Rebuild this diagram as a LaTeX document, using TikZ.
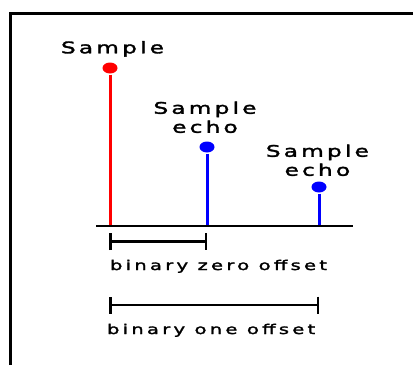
\documentclass[tikz,border=0pt]{standalone}
\usepackage{fontspec}
\usetikzlibrary{shapes.geometric,arrows.meta}
\newfontfamily\samplefont[FakeStretch=1.45,FakeBold=2,LetterSpace=20]{DejaVu Sans}
\newfontfamily\offsetfont[FakeStretch=1.45,FakeBold=2,LetterSpace=24]{DejaVu Sans}
\tikzset{
every picture/.style={
line width=2pt
}}
\tikzset{
dot/.style={ellipse, fill=#1, inner sep=0pt, minimum width=15pt, minimum height=11pt},
sample text/.style={inner sep=0pt, font=\samplefont\fontsize{16}{19}\selectfont},
offset text/.style={inner sep=0pt, anchor=base west, font=\offsetfont\fontsize{13.5}{16}\selectfont},
span/.style={{Bar[width=17pt]}-{Bar[width=17pt]}, line width=2.5pt}
}

\begin{document}
\begin{tikzpicture}[x=1pt,y=-1pt]
\useasboundingbox (0,0) rectangle (413,365);
\draw[line width=3pt] (10.5,365) -- (10.5,13.5) -- (413,13.5);

\foreach \x/\y/\c [count=\i] in {110/68/red, 207/147/blue, 319/187/blue}{
  \coordinate (b\i) at (\x,226);
  \node[dot=\c] (s\i) at (\x,\y) {};
  \draw[\c, line width=3pt] (s\i) -- (b\i);
}
\draw (96,226) -- (353,226);

\node[sample text, anchor=base west] (t1) at (60,53.3) {Sample};
\node[sample text, anchor=south, align=center] (t2) at (205,134) {Sample\\echo};
\node[sample text, anchor=south, align=center] (t3) at (317.4,177) {Sample\\echo};

% offsets
\coordinate (z1) at (109,241.7);
\coordinate (z2) at (207,241.7);
\draw[span] (z1) -- (z2);
\node[offset text] (zero) at (109,270) {binary zero offset};

\coordinate (o1) at (109,305);
\coordinate (o2) at (319,305);
\draw[span] (o1) -- (o2);
\node[offset text] (one) at (106,334) {binary one offset};

\end{tikzpicture}
\end{document}
